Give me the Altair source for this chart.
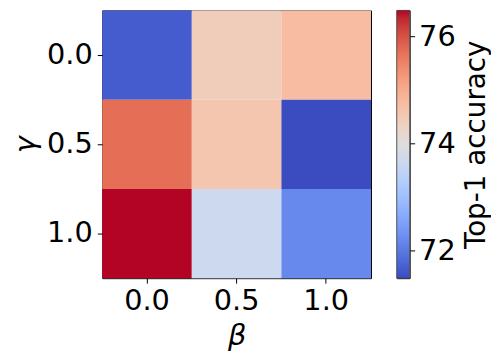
import altair as alt
import pandas as pd
import numpy as np

betas = ["0.0", "0.5", "1.0"]
gammas = ["0.0", "0.5", "1.0"]
# rows: gamma, columns: beta
acc_g00 = [71.66, 74.42, 74.75]
acc_g05 = [75.72, 74.58, 71.48]
acc_g10 = [76.48, 73.66, 72.18]

cb_ticks = [72, 74, 76]

rows = []
for g, vals in zip(gammas, [acc_g00, acc_g05, acc_g10]):
    for b, v in zip(betas, vals):
        rows.append({"beta": b, "gamma": g, "acc": v})
df = pd.DataFrame(rows)

vmin = float(df["acc"].min())
vmax = float(df["acc"].max())

coolwarm = [
    "#3b4cc0", "#445acc", "#4d68d7", "#5775e1", "#6282ea", "#6c8ef1", "#779af7",
    "#82a5fb", "#8db0fe", "#98b9ff", "#a3c2ff", "#aec9fd", "#b8d0f9", "#c2d5f4",
    "#ccd9ee", "#d5dbe6", "#dddddd", "#e5d8d1", "#ecd3c5", "#f1ccb9", "#f5c4ad",
    "#f7bba0", "#f7b194", "#f7a687", "#f49a7b", "#f18d6f", "#ec7f63", "#e57058",
    "#de604d", "#d55042", "#cb3e38", "#c0282f", "#b40426",
]
dom = list(np.linspace(vmin, vmax, len(coolwarm)))

FONT = "DejaVu Sans"
FS = 29

heat = alt.Chart(df).mark_rect().encode(
    x=alt.X("beta:N", sort=betas,
            scale=alt.Scale(paddingInner=0, paddingOuter=0),
            axis=alt.Axis(title="β", labelAngle=0, titleFontStyle="italic",
                          titlePadding=6)),
    y=alt.Y("gamma:N", sort=gammas,
            scale=alt.Scale(paddingInner=0, paddingOuter=0),
            axis=alt.Axis(title="γ", titleFontStyle="italic", titlePadding=6,
                          labelPadding=5)),
    color=alt.Color("acc:Q", scale=alt.Scale(domain=dom, range=coolwarm),
                    legend=None),
).properties(width=271, height=270)

stops = [{"offset": i / (len(coolwarm) - 1), "color": c} for i, c in enumerate(coolwarm)]
cb_df = pd.DataFrame({"lo": [vmin], "hi": [vmax]})
colorbar = alt.Chart(cb_df).mark_rect(
    fill={"gradient": "linear", "x1": 0, "y1": 1, "x2": 0, "y2": 0, "stops": stops},
    stroke="#444444", strokeWidth=0.8,
).encode(
    y=alt.Y("lo:Q", scale=alt.Scale(domain=[vmin, vmax], nice=False, zero=False),
            axis=alt.Axis(orient="right", values=cb_ticks, title="Top-1 accuracy",
                          titleAngle=270, titleX=67, titleY=135,
                          titleAlign="center", titleBaseline="middle",
                          titleFontSize=28,
                          grid=False, domain=False, format="d")),
    y2="hi:Q",
    x=alt.value(0),
    x2=alt.value(13),
).properties(width=13, height=270)

chart = alt.hconcat(heat, colorbar, spacing=24).configure(
    padding={"left": 3, "top": 0, "right": 0, "bottom": 0},
    font=FONT,
).configure_axis(
    labelFont=FONT, titleFont=FONT, labelFontSize=FS, titleFontSize=FS,
    labelColor="black", titleColor="black", titleFontWeight="normal",
    tickColor="black", tickSize=5, tickWidth=1, labelPadding=4,
    domain=False, grid=False,
).configure_view(
    stroke="black", strokeWidth=1,
)

chart.save("out.html", embed_options={"renderer": "svg", "actions": False})
